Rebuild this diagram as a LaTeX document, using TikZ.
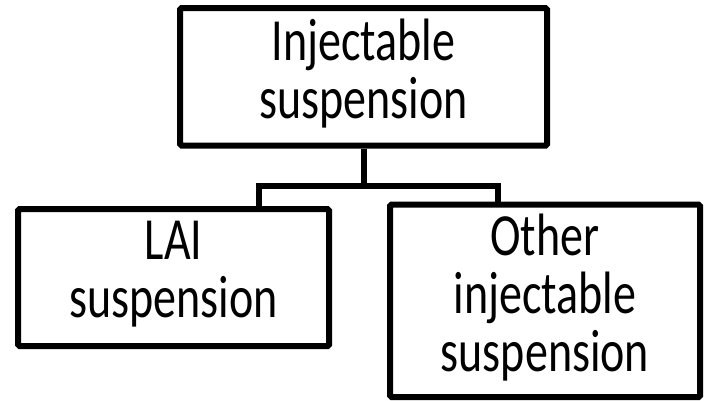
\documentclass[tikz,border=0pt]{standalone}
\usepackage{fontspec}
\setmainfont{Carlito}
\newcommand{\tallt}[1]{\scalebox{1}[1.3]{\fontsize{46}{43}\selectfont\begin{tabular}{@{}c@{}}#1\end{tabular}}}
\begin{document}
\begin{tikzpicture}[x=1pt,y=-1pt,
  box/.style={draw=black,line width=6pt,inner sep=0pt,align=center,rounded corners=1.5pt},
  conn/.style={draw=black,line width=6pt}]
\useasboundingbox (0,0) rectangle (705,400);
\node[box,minimum width=367pt,minimum height=137.5pt] (top) at (363.5,76.75) {\tallt{Injectable\\suspension}};
\node[box,minimum width=311pt,minimum height=137pt] (lft) at (173.5,277.5) {\tallt{LAI\\suspension}};
\node[box,minimum width=310pt,minimum height=192.5pt] (rgt) at (545,300.75) {\tallt{Other\\injectable\\suspension}};
\coordinate (lj) at (259,185.5);
\coordinate (rj) at (498,185.5);
\draw[conn] (top.south) -- (top.south |- lj);
\draw[conn] (lft.north -| lj) -- (lj) -- (rj) -- (rgt.north -| rj);
\end{tikzpicture}
\end{document}
